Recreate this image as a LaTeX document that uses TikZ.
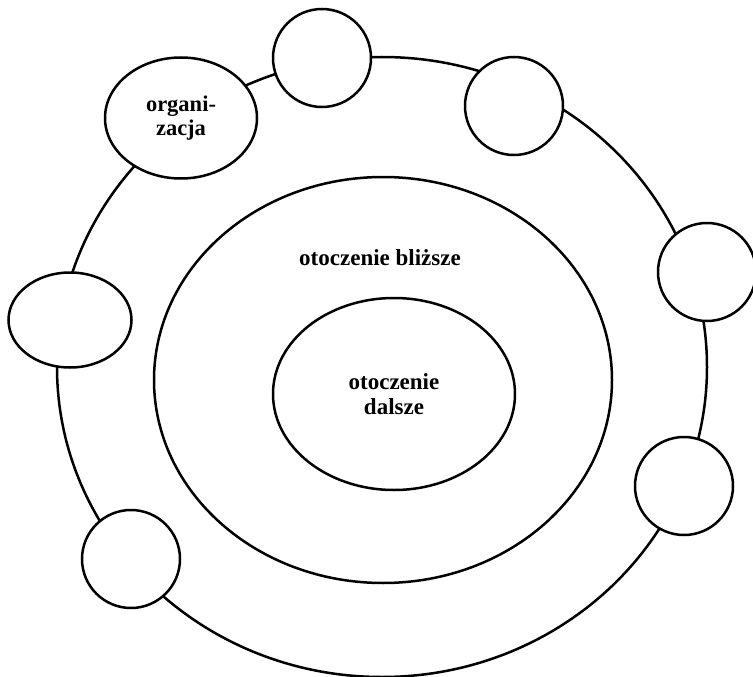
\documentclass[tikz,border=0pt]{standalone}
\usepackage{fontspec}
\setmainfont{Liberation Serif}
\usetikzlibrary{shapes.geometric}
\tikzset{every picture/.style={line width=2.5pt}}

\begin{document}
\begin{tikzpicture}[x=1pt,y=-1pt,
  ov/.style={ellipse,draw,inner sep=0pt,align=center,font=\bfseries\fontsize{23}{25}\selectfont},
  kolko/.style={circle,draw,fill=white,inner sep=0pt,minimum size=98pt}]
\useasboundingbox (0,0) rectangle (753,677);
% pierscienie otoczenia
\node (ring) at (382,367) [ov,minimum width=650pt,minimum height=620pt] {};
\node (blizsze) at (383,380) [ov,minimum width=458pt,minimum height=406pt] {};
\node (dalsze) at (394,394) [ov,minimum width=242pt,minimum height=192pt] {otoczenie\\dalsze};
\node (tb) at (380,258) [font=\bfseries\fontsize{23}{25}\selectfont] {otoczenie bliższe};
% organizacje na pierscieniu
\node (org) at (181,118) [ov,fill=white,minimum width=152pt,minimum height=121pt,font=\bfseries\fontsize{22.5}{24}\selectfont] {organi-\\zacja};
\node (lewy) at (70,320) [ov,fill=white,minimum width=123pt,minimum height=95pt] {};
\foreach \n/\x/\y in {gora/322/58,pgora/514/106,prawy/707/272,pdol/684/486,ldol/131/559}
\node (\n) at (\x,\y) [kolko] {};
\end{tikzpicture}
\end{document}
